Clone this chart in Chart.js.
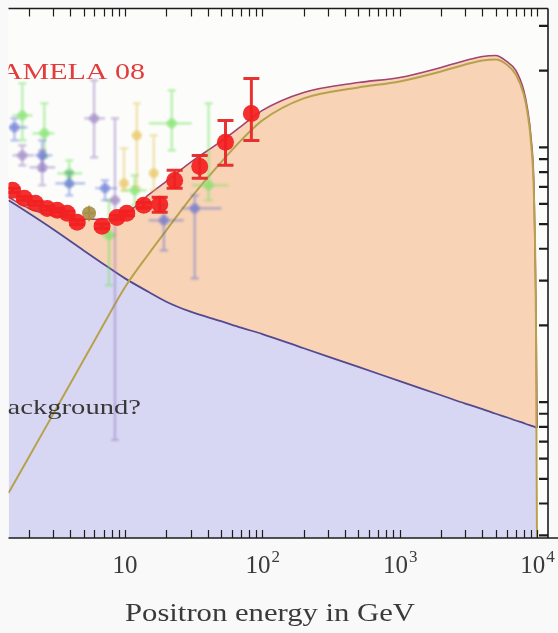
<!DOCTYPE html>
<html>
<head>
<meta charset="utf-8">
<script src="https://cdn.jsdelivr.net/npm/chart.js@4.4.1/dist/chart.umd.min.js"></script>
<style>
  html, body { margin: 0; padding: 0; background: #f8f9f8; }
  #wrap { width: 558px; height: 633px; position: relative; }
</style>
</head>
<body>
<div id="wrap"><canvas id="c"></canvas></div>
<script>
// Energy grid (GeV) shared by the model curves
const energyGrid = [1.42, 2, 3, 5, 7, 10, 15, 20, 30, 50, 70, 100, 200, 500, 1000,
  2000, 3000, 4000, 5000, 6000, 7000, 8000, 8500, 9000, 9500, 9800, 10000];

// Secondary (astrophysical background) positron fraction
const backgroundFraction = [0.0620, 0.0551, 0.0477, 0.0394, 0.0348, 0.0306, 0.0270, 0.02478,
  0.02264, 0.02078, 0.01960, 0.0185, 0.01627, 0.01375, 0.01209, 0.01064, 0.00987, 0.00939,
  0.00900, 0.00872, 0.00847, 0.00827, 0.00817, 0.00809, 0.00801, 0.00796, 0.00791];

// Background + dark matter signal
const totalFraction = [0.0637, 0.0576, 0.0541, 0.0522, 0.0522, 0.0546, 0.0654, 0.0736,
  0.0873, 0.1056, 0.1209, 0.1397, 0.1643, 0.1798, 0.1881, 0.2059, 0.2194, 0.2275,
  0.2295, 0.2174, 0.2005, 0.1673, 0.1422, 0.1114, 0.0678, 0.0251, 0.00791];

// Dark matter signal alone
const signalFraction = [0.00440, 0.00609, 0.00897, 0.01462, 0.02022, 0.02825, 0.03840,
  0.04725, 0.0631, 0.08733, 0.1065, 0.1276, 0.1557, 0.1719, 0.1815, 0.1986, 0.2116,
  0.2194, 0.2214, 0.2116, 0.1933, 0.1614, 0.1372, 0.1065, 0.0620, 0.0210, 0.002];

// PAMELA 2008 positron fraction
const pamelaE  = [1.52, 1.85, 2.23, 2.72, 3.21, 3.80, 4.49, 6.81, 8.75, 10.3, 13.7, 17.9, 23.0, 35.0, 53.9, 83.2];
const pamelaF  = [0.0678, 0.0631, 0.0603, 0.0576, 0.0566, 0.0551, 0.0508, 0.0490, 0.0531, 0.0551, 0.0593, 0.0598, 0.0742, 0.0842, 0.1047, 0.1359];
const pamelaLo = [0.0665, 0.0620, 0.0593, 0.0566, 0.0556, 0.0541, 0.0498, 0.0480, 0.0520, 0.0540, 0.0578, 0.0556, 0.0691, 0.0756, 0.0850, 0.1065];
const pamelaHi = [0.0691, 0.0642, 0.0613, 0.0586, 0.0576, 0.0561, 0.0518, 0.0500, 0.0542, 0.0562, 0.0608, 0.0637, 0.0813, 0.0930, 0.1276, 0.1865];

// Earlier balloon / satellite measurements, grouped by marker colour
const greenE   = [1.79, 2.59, 3.93, 21.9, 40.6, 11.8, 7.66];
const greenELo = [1.52, 2.12, 3.22, 14.9, 30.6, 9.51, 6.81];
const greenEHi = [2.12, 3.06, 4.88, 30.6, 56.7, 14.4, 8.61];
const greenF   = [0.1335, 0.1135, 0.0791, 0.1242, 0.0710, 0.0678, 0.0452];
const greenFLo = [0.1065, 0.0914, 0.0710, 0.0973, 0.0620, 0.0592, 0.0288];
const greenFHi = [0.1782, 0.1488, 0.0889, 0.1673, 0.1488, 0.0777, 0.0620];

const blueE   = [1.57, 2.50, 3.93, 7.16, 19.2, 32.2];
const blueELo = [1.42, 2.23, 3.11, 6.06, 14.9, 25.9];
const blueEHi = [1.95, 2.96, 5.13, 8.75, 26.8, 50.5];
const blueF   = [0.1198, 0.0930, 0.0722, 0.0691, 0.0517, 0.0576];
const blueFLo = [0.1065, 0.0813, 0.0648, 0.0620, 0.0394, 0.0306];
const blueFHi = [0.1299, 0.1065, 0.0798, 0.0742, 0.0592, 0.0648];

const purpleE   = [5.96, 1.79, 2.50, 8.46];
const purpleELo = [5.05, 1.52, 2.02, 7.79];
const purpleEHi = [7.16, 2.19, 3.11, 9.20];
const purpleF   = [0.1299, 0.0930, 0.0835, 0.0620];
const purpleFLo = [0.0914, 0.0850, 0.0710, 0.0071];
const purpleFHi = [0.1831, 0.1018, 0.0973, 0.1299];

const yellowE   = [12.2, 9.84, 16.2];
const yellowELo = [11.4, 9.36, 15.4];
const yellowEHi = [13.1, 10.3, 17.1];
const yellowF   = [0.1114, 0.0722, 0.0791];
const yellowFLo = [0.0697, 0.0678, 0.0678];
const yellowFHi = [0.1488, 0.0991, 0.1114];

const oliveE   = [5.48];
const oliveELo = [5.05];
const oliveEHi = [5.96];
const oliveF   = [0.0551];
const oliveFLo = [0.0513];
const oliveFHi = [0.0592];

// Axis ranges and tick labels
const xMin = 1.42, xMax = 12000;
const yMin = 0.002928, yMax = 0.3509;
const xTickValues = [10, 100, 1000, 10000];
const xTickBase   = ['10', '10', '10', '10'];
const xTickExp    = ['', '2', '3', '4'];
const yTickValues = [0.003, 0.004, 0.005, 0.006, 0.007, 0.008, 0.009,
  0.01, 0.02, 0.03, 0.04, 0.05, 0.06, 0.07, 0.08, 0.09, 0.1, 0.2, 0.3];
const xAxisTitle = 'Positron energy in GeV';

const xMinorTicks = [];
for (const p of [1, 10, 100, 1000, 10000]) {
  for (let m = 1; m <= 9; m++) {
    const v = m * p;
    if (v >= xMin && v <= xMax) xMinorTicks.push(v);
  }
}

const pts = (xs, ys) => xs.map((v, i) => ({ x: v, y: ys[i] }));

const SERIF = '"Liberation Serif", "DejaVu Serif", serif';

// Plot background
const plotBg = {
  id: 'plotBg',
  beforeDraw(chart) {
    const { ctx, chartArea: a } = chart;
    ctx.save();
    ctx.fillStyle = '#f8f9f8';
    ctx.fillRect(0, 0, chart.width, chart.height);
    ctx.fillStyle = '#fcfdfb';
    ctx.fillRect(a.left, a.top, a.right - a.left, a.bottom - a.top);
    ctx.restore();
  }
};

// Horizontal / vertical error bars drawn under each point dataset
const errorBars = {
  id: 'errorBars',
  beforeDatasetDraw(chart, args) {
    const ds = chart.data.datasets[args.index];
    if (!ds.err) return;
    const { ctx, chartArea: a, scales: { x, y } } = chart;
    const e = ds.err;
    ctx.save();
    ctx.beginPath();
    ctx.rect(a.left, a.top, a.right - a.left, a.bottom - a.top);
    ctx.clip();
    if (e.blur) ctx.filter = `blur(${e.blur}px)`;
    ctx.strokeStyle = e.color;
    ctx.lineWidth = e.width;
    ds.data.forEach((p, i) => {
      const px = x.getPixelForValue(p.x);
      const py = y.getPixelForValue(p.y);
      ctx.beginPath();
      if (e.yLo) {
        const t = y.getPixelForValue(e.yHi[i]);
        const b = y.getPixelForValue(e.yLo[i]);
        ctx.moveTo(px, t); ctx.lineTo(px, b);
        if (e.cap) {
          ctx.moveTo(px - e.cap, t); ctx.lineTo(px + e.cap, t);
          ctx.moveTo(px - e.cap, b); ctx.lineTo(px + e.cap, b);
        }
      }
      if (e.xLo) {
        ctx.moveTo(x.getPixelForValue(e.xLo[i]), py);
        ctx.lineTo(x.getPixelForValue(e.xHi[i]), py);
      }
      ctx.stroke();
    });
    ctx.restore();
    if (ds.blurPx) {
      ctx.save();
      ctx.filter = `blur(${ds.blurPx}px)`;
    }
  },
  afterDatasetDraw(chart, args) {
    const ds = chart.data.datasets[args.index];
    if (ds.blurPx) chart.ctx.restore();
  }
};

// Frame, inward ticks, tick labels, axis title and annotations
const frame = {
  id: 'frame',
  afterDraw(chart) {
    const { ctx, chartArea: a, scales: { x, y } } = chart;
    ctx.save();
    ctx.strokeStyle = '#1c1c1c';
    ctx.lineWidth = 1.6;
    ctx.beginPath();
    ctx.moveTo(a.left, a.top); ctx.lineTo(a.right, a.top);
    ctx.moveTo(a.left, a.bottom); ctx.lineTo(chart.width, a.bottom);
    ctx.moveTo(a.right, a.top); ctx.lineTo(a.right, a.bottom);
    ctx.stroke();

    ctx.lineWidth = 1.2;
    ctx.beginPath();
    xMinorTicks.forEach(v => {
      const px = Math.round(x.getPixelForValue(v)) + 0.5;
      ctx.moveTo(px, a.bottom); ctx.lineTo(px, a.bottom - 8);
      ctx.moveTo(px, a.top); ctx.lineTo(px, a.top + 8);
    });
    ctx.stroke();

    ctx.lineWidth = 2.2;
    ctx.beginPath();
    yTickValues.forEach(v => {
      const py = y.getPixelForValue(v);
      ctx.moveTo(a.right, py); ctx.lineTo(a.right - 9, py);
    });
    ctx.stroke();

    // x tick labels
    ctx.fillStyle = '#3a3a3a';
    ctx.textBaseline = 'alphabetic';
    ctx.textAlign = 'left';
    xTickValues.forEach((v, i) => {
      const px = x.getPixelForValue(v);
      ctx.font = `25px ${SERIF}`;
      const wb = ctx.measureText(xTickBase[i]).width;
      ctx.font = `17px ${SERIF}`;
      const we = xTickExp[i] ? ctx.measureText(xTickExp[i]).width : 0;
      const start = px - (wb + we) / 2;
      ctx.font = `25px ${SERIF}`;
      ctx.fillText(xTickBase[i], start, 573);
      if (xTickExp[i]) {
        ctx.font = `17px ${SERIF}`;
        ctx.fillText(xTickExp[i], start + wb + 1, 562);
      }
    });

    // axis title
    ctx.save();
    ctx.translate(270, 621);
    ctx.scale(1.18, 1);
    ctx.font = `26px ${SERIF}`;
    ctx.textAlign = 'center';
    ctx.fillText(xAxisTitle, 0, 0);
    ctx.restore();

    // annotations, clipped to the plot area
    ctx.save();
    ctx.beginPath();
    ctx.rect(a.left, a.top, a.right - a.left, a.bottom - a.top);
    ctx.clip();
    ctx.textAlign = 'right';
    ctx.save();
    ctx.translate(145, 79);
    ctx.scale(1.25, 1);
    ctx.fillStyle = '#e23c3c';
    ctx.font = `24px ${SERIF}`;
    ctx.fillText('PAMELA 08', 0, 0);
    ctx.restore();
    ctx.save();
    ctx.translate(141, 414);
    ctx.scale(1.3, 1);
    ctx.fillStyle = '#383838';
    ctx.font = `22px ${SERIF}`;
    ctx.fillText('background?', 0, 0);
    ctx.restore();
    ctx.restore();

    ctx.restore();
  }
};

const otherSet = (label, xs, xLo, xHi, ys, yLo, yHi, fill, bar, order) => ({
  label,
  data: pts(xs, ys),
  showLine: false,
  pointRadius: 5,
  pointBackgroundColor: fill,
  pointBorderWidth: 0,
  blurPx: 1,
  err: { xLo, xHi, yLo, yHi, color: bar, width: 2.2, cap: 4, blur: 0.8 },
  order
});

new Chart(document.getElementById('c'), {
  type: 'line',
  data: {
    datasets: [
      {
        label: 'Background',
        data: pts(energyGrid, backgroundFraction),
        borderColor: '#54498f',
        borderWidth: 1.8,
        backgroundColor: '#d7d7f4',
        fill: 'start',
        pointRadius: 0,
        cubicInterpolationMode: 'monotone',
        order: 10
      },
      {
        label: 'Background + signal',
        data: pts(energyGrid, totalFraction),
        borderColor: '#a3436f',
        borderWidth: 1.6,
        backgroundColor: '#f8d3b6',
        fill: 0,
        pointRadius: 0,
        cubicInterpolationMode: 'monotone',
        order: 11
      },
      {
        label: 'Signal',
        data: pts(energyGrid, signalFraction),
        borderColor: '#b7a24c',
        borderWidth: 2,
        fill: false,
        pointRadius: 0,
        cubicInterpolationMode: 'monotone',
        order: 9
      },
      otherSet('Green', greenE, greenELo, greenEHi, greenF, greenFLo, greenFHi,
        'rgba(120,226,100,0.6)', 'rgba(120,226,100,0.55)', 6),
      otherSet('Blue', blueE, blueELo, blueEHi, blueF, blueFLo, blueFHi,
        'rgba(85,105,210,0.55)', 'rgba(85,105,210,0.45)', 5),
      otherSet('Purple', purpleE, purpleELo, purpleEHi, purpleF, purpleFLo, purpleFHi,
        'rgba(150,120,190,0.55)', 'rgba(150,120,190,0.5)', 4),
      otherSet('Yellow', yellowE, yellowELo, yellowEHi, yellowF, yellowFLo, yellowFHi,
        'rgba(232,196,90,0.65)', 'rgba(232,196,90,0.5)', 3),
      {
        label: 'Olive',
        data: pts(oliveE, oliveF),
        showLine: false,
        pointRadius: 7,
        pointBackgroundColor: 'rgba(160,135,60,0.85)',
        pointBorderWidth: 0,
        err: { xLo: oliveELo, xHi: oliveEHi, yLo: oliveFLo, yHi: oliveFHi, color: 'rgba(160,135,60,0.6)', width: 2 },
        order: 2
      },
      {
        label: 'PAMELA 08',
        data: pts(pamelaE, pamelaF),
        showLine: false,
        pointRadius: 8.5,
        pointBackgroundColor: 'rgba(242,32,32,0.93)',
        pointBorderWidth: 0,
        err: { yLo: pamelaLo, yHi: pamelaHi, color: 'rgba(230,40,40,0.95)', width: 3, cap: 8 },
        order: 1
      }
    ]
  },
  options: {
    responsive: true,
    maintainAspectRatio: false,
    animation: false,
    layout: { padding: { left: 6, right: 10, top: 8, bottom: 95 } },
    plugins: { legend: { display: false }, tooltip: { enabled: false } },
    scales: {
      x: { type: 'logarithmic', min: xMin, max: xMax, display: false },
      y: { type: 'logarithmic', min: yMin, max: yMax, display: false }
    }
  },
  plugins: [plotBg, errorBars, frame]
});
</script>
</body>
</html>
